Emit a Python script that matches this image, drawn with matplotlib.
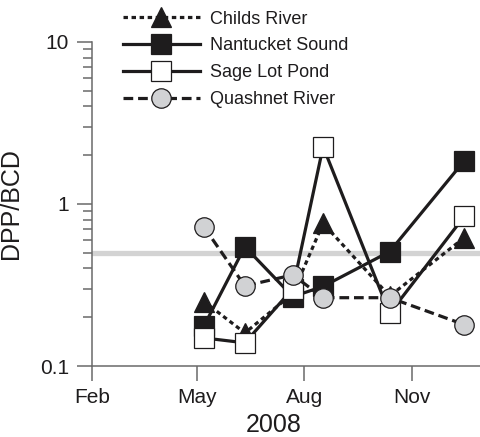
import matplotlib
matplotlib.use("Agg")
import matplotlib.pyplot as plt
import matplotlib.dates as mdates
from matplotlib.ticker import LogLocator, NullFormatter, FixedLocator, FixedFormatter
import datetime as dt

plt.rcParams['font.family'] = ['Liberation Sans', 'DejaVu Sans']
plt.rcParams['lines.scale_dashes'] = False

# ---- data ----
dates = ['2008-05-07', '2008-06-11', '2008-07-22', '2008-08-17', '2008-10-13', '2008-12-16']
childs = [0.25, 0.16, 0.28, 0.76, 0.27, 0.62]
nantucket = [0.177, 0.545, 0.268, 0.31, 0.508, 1.85]
sage = [0.149, 0.139, 0.30, 2.26, 0.211, 0.84]
quashnet = [0.72, 0.312, 0.365, 0.264, 0.264, 0.18]
threshold = 0.5
xtick_dates = ['2008-02-01', '2008-05-01', '2008-08-01', '2008-11-01']
xtick_labels = ['Feb', 'May', 'Aug', 'Nov']
ytick_vals = [0.1, 1, 10]
ytick_labels = ['0.1', '1', '10']

x = [dt.datetime.strptime(d, '%Y-%m-%d') for d in dates]

W, H = 481, 437
fig = plt.figure(figsize=(W / 100, H / 100), dpi=100)
ax = fig.add_axes([92 / W, 71 / H, 391 / W, 324 / H])

dark = '#1e1c1d'
axcol = '#6a6a6a'
ms = 14
mew = 0.9
lw = 2.3

ax.axhline(threshold, color='#d3d3d3', lw=3.8, zorder=1)

ax.plot(x, childs, linestyle=(0, (3.2, 2.6)), color=dark, lw=lw, marker='^',
        ms=ms, mfc=dark, mec=dark, mew=mew, label='Childs River', zorder=2)
ax.plot(x, nantucket, linestyle='-', color=dark, lw=lw, marker='s',
        ms=ms, mfc=dark, mec=dark, mew=mew, label='Nantucket Sound', zorder=3)
ax.plot(x, sage, linestyle='-', color=dark, lw=lw, marker='s',
        ms=ms, mfc='white', mec=dark, mew=mew, label='Sage Lot Pond', zorder=4)
ax.plot(x, quashnet, linestyle=(0, (7, 3.5)), color=dark, lw=lw, marker='o',
        ms=ms, mfc='#d1d2d4', mec=dark, mew=mew, label='Quashnet River', zorder=5)

ax.set_yscale('log')
ax.set_ylim(0.1, 10)
ax.set_xlim(dt.datetime(2008, 2, 1), dt.datetime(2009, 1, 1))

ax.yaxis.set_major_locator(FixedLocator(ytick_vals))
ax.yaxis.set_major_formatter(FixedFormatter(ytick_labels))
ax.yaxis.set_minor_locator(LogLocator(base=10, subs=range(2, 10)))
ax.yaxis.set_minor_formatter(NullFormatter())

xt = [mdates.date2num(dt.datetime.strptime(d, '%Y-%m-%d')) for d in xtick_dates]
ax.xaxis.set_major_locator(FixedLocator(xt))
ax.xaxis.set_major_formatter(FixedFormatter(xtick_labels))
ax.xaxis.set_minor_locator(FixedLocator([]))

for s in ['top', 'right']:
    ax.spines[s].set_visible(False)
for s in ['left', 'bottom']:
    ax.spines[s].set_color(axcol)
    ax.spines[s].set_linewidth(1.1)

ax.tick_params(axis='both', which='major', length=10.5, width=1.1, color=axcol,
               labelsize=15, labelcolor=dark)
ax.tick_params(axis='y', which='major', pad=6)
ax.tick_params(axis='x', which='major', pad=5)
ax.tick_params(axis='y', which='minor', length=6.5, width=1.1, color=axcol)

ax.set_xlabel('2008', fontsize=18, color=dark)
ax.xaxis.set_label_coords((274 - 92) / 391, -47 / 324)
ax.set_ylabel('DPP/BCD', fontsize=18, color=dark)
ax.yaxis.set_label_coords((23 - 92) / 391, 0.5)

leg = ax.legend(loc='upper left', bbox_to_anchor=(123 / W, 1 - 10.5 / H),
                bbox_transform=fig.transFigure, frameon=False, fontsize=13,
                handlelength=4.26, handletextpad=0.55, labelspacing=0.55,
                borderpad=0, borderaxespad=0, numpoints=1)
for t in leg.get_texts():
    t.set_color(dark)

fig.savefig('out.png', dpi=100)
